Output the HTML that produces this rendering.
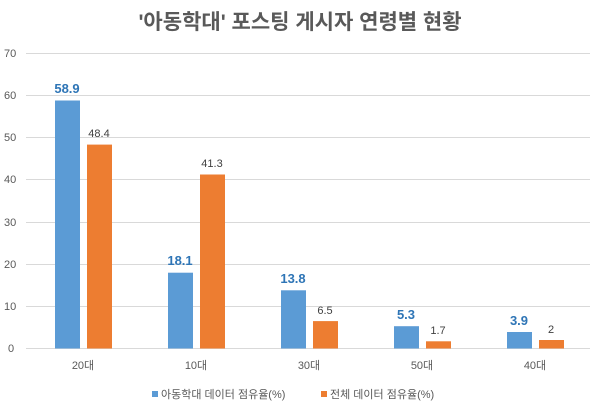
<!DOCTYPE html><html><head><meta charset="utf-8"><style>body{margin:0;background:#fff}</style></head><body>
<svg width="600" height="410" xmlns="http://www.w3.org/2000/svg" font-family="Liberation Sans, Noto Sans CJK KR, sans-serif">
<rect width="600" height="410" fill="#fff"/>
<text x="300" y="29" text-anchor="middle" font-size="21" font-weight="bold" fill="#595959">'아동학대' 포스팅 게시자 연령별 현황</text>
<g stroke="#d9d9d9" stroke-width="1">
<line x1="26" x2="590" y1="53.5" y2="53.5"/><line x1="26" x2="590" y1="95.5" y2="95.5"/><line x1="26" x2="590" y1="137.5" y2="137.5"/><line x1="26" x2="590" y1="179.5" y2="179.5"/><line x1="26" x2="590" y1="222.5" y2="222.5"/><line x1="26" x2="590" y1="264.5" y2="264.5"/><line x1="26" x2="590" y1="306.5" y2="306.5"/><line x1="26" x2="590" y1="348.5" y2="348.5"/>
</g>
<g font-size="11" fill="#595959" text-anchor="start">
<text x="4" y="57">70</text><text x="4" y="99">60</text><text x="4" y="141">50</text><text x="4" y="183">40</text><text x="4" y="226">30</text><text x="4" y="268">20</text><text x="4" y="310">10</text><text x="8" y="352">0</text>
</g>
<g fill="#5b9bd5">
<rect x="55" y="100.5" width="25" height="248"/>
<rect x="168" y="272.7" width="25" height="75.8"/>
<rect x="281" y="290.3" width="25" height="58.2"/>
<rect x="394" y="326.2" width="25" height="22.3"/>
<rect x="507" y="332" width="25" height="16.5"/>
</g>
<g fill="#ed7d31">
<rect x="87" y="144.6" width="25" height="203.9"/>
<rect x="200" y="174.5" width="25" height="174"/>
<rect x="313" y="321.1" width="25" height="27.4"/>
<rect x="426" y="341.3" width="25" height="7.2"/>
<rect x="539" y="340" width="25" height="8.5"/>
</g>
<g font-size="13" font-weight="bold" fill="#2e75b6" text-anchor="middle">
<text x="67" y="93">58.9</text><text x="180" y="265">18.1</text><text x="293" y="283">13.8</text><text x="406" y="319">5.3</text><text x="519" y="325">3.9</text>
</g>
<g font-size="11" fill="#404040" text-anchor="middle">
<text x="99" y="137">48.4</text><text x="212" y="167">41.3</text><text x="325" y="314">6.5</text><text x="438" y="334">1.7</text><text x="551" y="333">2</text>
</g>
<g font-size="11" fill="#595959" text-anchor="middle">
<text x="83" y="369">20대</text><text x="196" y="369">10대</text><text x="309" y="369">30대</text><text x="422" y="369">50대</text><text x="535" y="369">40대</text>
</g>
<rect x="152" y="391" width="6" height="6" fill="#5b9bd5"/>
<text x="161" y="398" font-size="11" fill="#595959">아동학대 데이터 점유율(%)</text>
<rect x="321" y="391" width="6" height="6" fill="#ed7d31"/>
<text x="330" y="398" font-size="11" fill="#595959">전체 데이터 점유율(%)</text>
</svg></body></html>
